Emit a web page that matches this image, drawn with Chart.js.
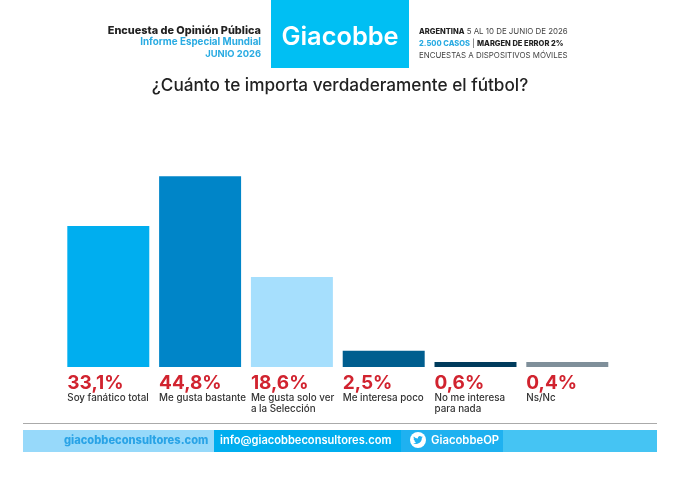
<!DOCTYPE html>
<html>
<head>
<meta charset="utf-8">
<script src="https://cdn.jsdelivr.net/npm/chart.js@4"></script>
<style>
  html, body { margin: 0; padding: 0; background: #fff; }
  #page { position: relative; width: 680px; height: 481px; overflow: hidden; font-family: Inter, sans-serif; }
  #page canvas { position: absolute; left: 0; top: 0; }
  .abs { position: absolute; white-space: nowrap; }
  .hdrLeft { right: 419px; text-align: right; font-weight: 700; line-height: 12px; }
  .hdrRight { left: 419px; font-size: 7.9px; line-height: 12px; color: #444; }
  .hdrRight b { font-size: 7.5px; font-weight: 800; }
  .foot { top: 429px; height: 23px; line-height: 23px; font-weight: 600; }
</style>
</head>
<body>
<div id="page">
  <canvas id="chart" width="680" height="481"></canvas>

  <div class="abs" style="left:271px;top:0;width:138px;height:68px;background:#00bff3"></div>
  <div class="abs" style="left:271px;top:16px;width:138px;text-align:center;color:#fff;font-size:25.4px;font-weight:600;line-height:40px">Giacobbe</div>

  <div class="abs hdrLeft" style="top:24px;color:#222;font-size:10.9px;font-weight:800">Encuesta de Opinión Pública</div>
  <div class="abs hdrLeft" style="top:36px;color:#29abe2;font-size:9.8px">Informe Especial Mundial</div>
  <div class="abs hdrLeft" style="top:48px;color:#29abe2;font-size:9.4px">JUNIO 2026</div>

  <div class="abs hdrRight" style="top:25px"><b style="color:#222">ARGENTINA</b> 5 AL 10 DE JUNIO DE 2026</div>
  <div class="abs hdrRight" style="top:37px"><b style="color:#29abe2">2.500 CASOS</b> | <b style="color:#222">MARGEN DE ERROR 2%</b></div>
  <div class="abs hdrRight" style="top:49px">ENCUESTAS A DISPOSITIVOS MÓVILES</div>

  <div class="abs" style="left:0;width:680px;top:74px;text-align:center;font-size:17.2px;font-weight:500;line-height:22px;color:#222">¿Cuánto te importa verdaderamente el fútbol?</div>

  <div class="abs" style="left:23px;top:423px;width:634px;height:1px;background:#aaa"></div>
  <div class="abs" style="left:23px;top:430px;width:191px;height:22px;background:#97d9fa"></div>
  <div class="abs" style="left:214px;top:430px;width:187px;height:22px;background:#00aeef"></div>
  <div class="abs" style="left:401px;top:430px;width:102px;height:22px;background:#1fb1f0"></div>
  <div class="abs" style="left:503px;top:430px;width:154px;height:22px;background:#45c4f3"></div>
  <div class="abs foot" style="left:64px;color:#29a3e6;font-weight:800;font-size:11.1px">giacobbeconsultores.com</div>
  <div class="abs foot" style="left:220px;color:#fff;font-size:11.1px">info@giacobbeconsultores.com</div>
  <svg class="abs" style="left:410px;top:432px" width="16" height="16" viewBox="0 0 16 16">
    <circle cx="8" cy="8" r="8" fill="#fff"/>
    <g transform="translate(3.2 3.2) scale(0.4)">
      <path fill="#1fb1f0" d="M23.953 4.57a10 10 0 01-2.825.775 4.958 4.958 0 002.163-2.723c-.951.555-2.005.959-3.127 1.184a4.92 4.92 0 00-8.384 4.482C7.69 8.095 4.067 6.13 1.64 3.162a4.822 4.822 0 00-.666 2.475c0 1.71.87 3.213 2.188 4.096a4.904 4.904 0 01-2.228-.616v.06a4.923 4.923 0 003.946 4.827 4.996 4.996 0 01-2.212.085 4.936 4.936 0 004.604 3.417 9.867 9.867 0 01-6.102 2.105c-.39 0-.779-.023-1.17-.067a13.995 13.995 0 007.557 2.209c9.053 0 13.998-7.496 13.998-13.985 0-.21 0-.42-.015-.63A9.935 9.935 0 0024 4.59z"/>
    </g>
  </svg>
  <div class="abs foot" style="left:431px;color:#fff;font-size:11.3px">GiacobbeOP</div>
</div>

<script>
// printed on the picture
const categories = [
  ['Soy fanático total'],
  ['Me gusta bastante'],
  ['Me gusta solo ver', 'a la Selección'],
  ['Me interesa poco'],
  ['No me interesa', 'para nada'],
  ['Ns/Nc']
];
const percentLabels = ['33,1%', '44,8%', '18,6%', '2,5%', '0,6%', '0,4%'];
// bar heights; the original does not draw them to scale
const barHeights = [33.1, 44.8, 21.1, 3.8, 1.2, 1.2];
const barColors = ['#00aeef', '#0085c8', '#a6dffd', '#005e8f', '#003b5c', '#7f8f9a'];

// left-aligned percent + category under each bar
const barLabels = {
  id: 'barLabels',
  afterDatasetsDraw(chart) {
    const ctx = chart.ctx;
    const bars = chart.getDatasetMeta(0).data;
    const base = chart.scales.y.getPixelForValue(0);
    ctx.save();
    ctx.textAlign = 'left';
    ctx.textBaseline = 'alphabetic';
    bars.forEach((bar, i) => {
      const left = bar.x - bar.width / 2;
      ctx.fillStyle = '#d1232f';
      ctx.font = '700 19px Inter, sans-serif';
      ctx.fillText(percentLabels[i], left, base + 22);
      ctx.fillStyle = '#333';
      ctx.font = '500 9.8px Inter, sans-serif';
      categories[i].forEach((line, j) => {
        ctx.fillText(line, left, base + 34 + j * 11);
      });
    });
    ctx.restore();
  }
};

new Chart(document.getElementById('chart').getContext('2d'), {
  type: 'bar',
  data: {
    labels: categories.map(c => c.join(' ')),
    datasets: [{
      data: barHeights,
      backgroundColor: barColors,
      barPercentage: 0.893,
      categoryPercentage: 1
    }]
  },
  options: {
    responsive: false,
    animation: false,
    layout: { padding: { left: 62.4, right: 66.8, top: 154, bottom: 114 } },
    plugins: { legend: { display: false }, tooltip: { enabled: false } },
    scales: {
      x: { display: false },
      y: { display: false, min: 0, max: 50 }
    }
  },
  plugins: [barLabels]
});
</script>
</body>
</html>
